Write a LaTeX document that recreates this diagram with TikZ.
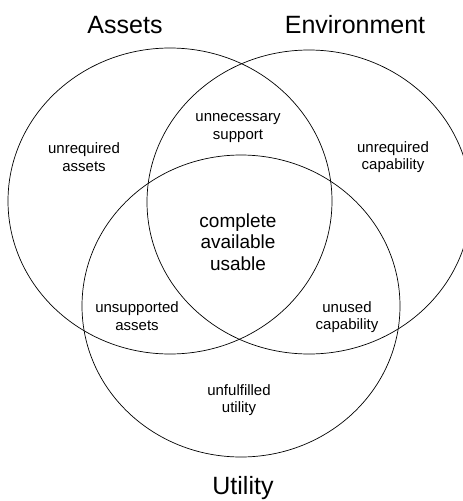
\documentclass[tikz,border=0pt]{standalone}
\usepackage{fontspec}
\setmainfont{Liberation Sans}
\usepackage{tikz}

\begin{document}
\begin{tikzpicture}[x=1pt,y=-1pt,
  set/.style={line width=0.7pt},
  title/.style={font=\fontsize{25}{30}\selectfont},
  region/.style={align=center,font=\fontsize{15}{17.5}\selectfont},
  core/.style={align=center,font=\fontsize{19}{21.5}\selectfont}]

\useasboundingbox (0,0) rectangle (463,501);

\draw[set] (170,201) ellipse [x radius=162pt, y radius=153pt];
\draw[set] (309,202) ellipse [x radius=162pt, y radius=152pt];
\draw[set] (241,306) ellipse [x radius=159pt, y radius=151pt];

\node[title] (assets) at (125,25) {Assets};
\node[title] (environment) at (355,25) {Environment};
\node[title] (utility) at (243,488) {Utility};

\node[region] (unreqassets) at (84,157) {unrequired\\assets};
\node[region] (unnecessary) at (238,128) {unnecessary\\support};
\node[region] (unreqcap) at (393,157) {unrequired\\capability};
\node[core] (complete) at (238,242) {complete\\available\\usable};
\node[region] (unsupported) at (137,316) {unsupported\\assets};
\node[region] (unused) at (347,317) {unused\\capability};
\node[region] (unfulfilled) at (239,400) {unfulfilled\\utility};

\end{tikzpicture}
\end{document}
